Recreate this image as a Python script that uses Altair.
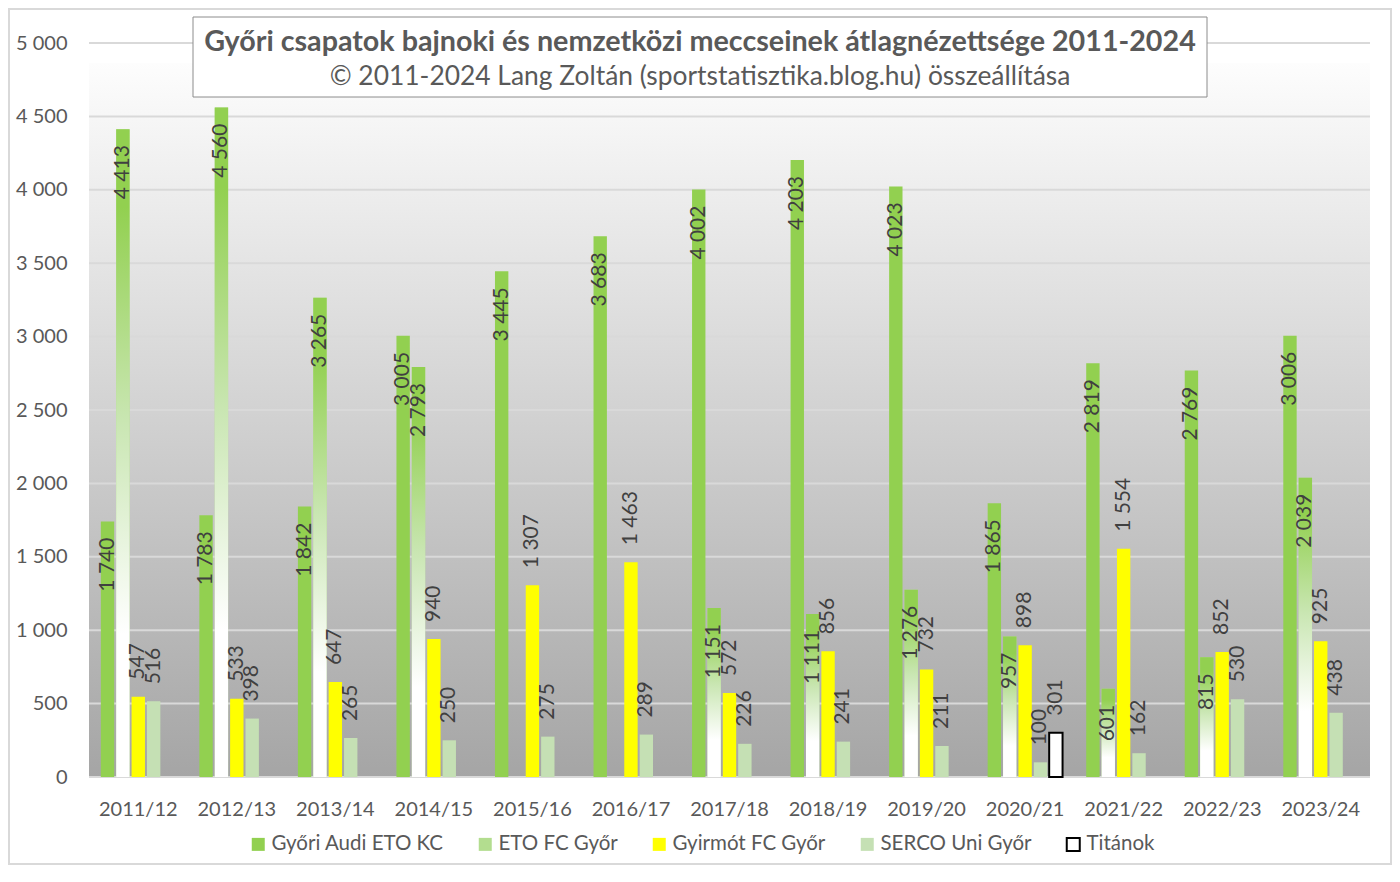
import altair as alt
import pandas as pd

# ---------------- data ----------------
seasons = ["2011/12", "2012/13", "2013/14", "2014/15", "2015/16", "2016/17", "2017/18",
           "2018/19", "2019/20", "2020/21", "2021/22", "2022/23", "2023/24"]
series_names = ["Győri Audi ETO KC", "ETO FC Győr", "Gyirmót FC Győr", "SERCO Uni Győr", "Titánok"]

eto_kc = [1740, 1783, 1842, 3005, 3445, 3683, 4002, 4203, 4023, 1865, 2819, 2769, 3006]
eto_fc = [4413, 4560, 3265, 2793, None, None, 1151, 1111, 1276, 957, 601, 815, 2039]
gyirmot = [547, 533, 647, 940, 1307, 1463, 572, 856, 732, 898, 1554, 852, 925]
serco = [516, 398, 265, 250, 275, 289, 226, 241, 211, 100, 162, 530, 438]
titanok = [None, None, None, None, None, None, None, None, None, 301, None, None, None]

y_ticks = [0, 500, 1000, 1500, 2000, 2500, 3000, 3500, 4000, 4500, 5000]

title_line1 = "Győri csapatok bajnoki és nemzetközi meccseinek átlagnézettsége 2011-2024"
title_line2 = "© 2011-2024 Lang Zoltán (sportstatisztika.blog.hu) összeállítása"

inside_series = ["Győri Audi ETO KC", "ETO FC Győr"]

# ---------------- build table ----------------
rows = []
for name, vals in zip(series_names, [eto_kc, eto_fc, gyirmot, serco, titanok]):
    for s, v in zip(seasons, vals):
        if v is not None:
            rows.append({"season": s, "series": name, "value": v})
df = pd.DataFrame(rows)
grid_df = pd.DataFrame({"v": y_ticks})
one = pd.DataFrame({"a": [0]})

FONT = "Lato"
W, H = 1281, 734

fill_colors = ["#92d050", "#b3dd8f", "#ffff00", "#c5e0b4", "#ffffff"]
stroke_colors = ["transparent", "transparent", "transparent", "transparent", "#000000"]

x_axis = alt.Axis(title=None, labelAngle=0, domain=False, ticks=False, grid=False,
                  labelFont=FONT, labelFontSize=20, labelColor="#595959", labelPadding=22)
y_axis = alt.Axis(title=None, domain=False, ticks=False, tickSize=0, grid=False,
                  values=y_ticks, labelFont=FONT, labelFontSize=20, labelColor="#595959",
                  labelPadding=22,
                  labelExpr="replace(format(datum.value, ','), ',', ' ')")
x_scale = alt.Scale(domain=seasons, paddingInner=0.24, paddingOuter=0.12)
xo_scale = alt.Scale(domain=series_names, paddingInner=0.13, paddingOuter=0)
y_scale = alt.Scale(domain=[0, 5000], nice=False, zero=True)

X = alt.X("season:N", scale=x_scale, axis=x_axis, sort=seasons)
XO = alt.XOffset("series:N", scale=xo_scale, sort=series_names)
Y = alt.Y("value:Q", scale=y_scale, axis=y_axis)

label_expr = "replace(format(datum.value, ','), ',', ' ')"

legend = alt.Legend(title=None, orient="none", legendX=159, legendY=791,
                    direction="horizontal", columns=5, columnPadding=30,
                    symbolType="square", symbolSize=169, labelLimit=400,
                    symbolStrokeWidth=2, labelFont=FONT, labelFontSize=20.5,
                    labelColor="#595959", labelOffset=3)

# background gradient of the plot area
bg = alt.Chart(one).mark_rect(
    color=alt.LinearGradient(
        gradient="linear",
        stops=[alt.GradientStop(color="#fdfdfd", offset=0),
               alt.GradientStop(color="#a5a5a5", offset=1)],
        x1=0, x2=0, y1=0, y2=1)
).encode(x=alt.value(0), x2=alt.value("width"), y=alt.value(20), y2=alt.value("height"))

grid = alt.Chart(grid_df).mark_rule(color="#d9d9d9", strokeWidth=2).encode(
    y=alt.Y("v:Q", scale=y_scale, axis=y_axis)
)

bars = alt.Chart(df).mark_bar(strokeWidth=2).encode(
    x=X, xOffset=XO, y=Y,
    fill=alt.Fill("series:N", scale=alt.Scale(domain=series_names, range=fill_colors),
                  sort=series_names, legend=legend),
    stroke=alt.Stroke("series:N", scale=alt.Scale(domain=series_names, range=stroke_colors),
                      sort=series_names, legend=legend),
)

grad_bars = alt.Chart(df).transform_filter(
    alt.datum.series == "ETO FC Győr"
).mark_bar(
    fill=alt.LinearGradient(
        gradient="linear",
        stops=[alt.GradientStop(color="#92d050", offset=0),
               alt.GradientStop(color="#92d050", offset=0.12),
               alt.GradientStop(color="#c9e6b2", offset=0.45),
               alt.GradientStop(color="#ffffff", offset=0.78),
               alt.GradientStop(color="#ffffff", offset=1)],
        x1=0, x2=0, y1=0, y2=1)
).encode(x=X, xOffset=XO, y=Y)

labels_in = alt.Chart(df).transform_filter(
    alt.FieldOneOfPredicate(field="series", oneOf=inside_series)
).transform_calculate(label=label_expr).mark_text(
    angle=270, align="right", baseline="middle", dx=-16, font=FONT, fontSize=21,
    color="#404040"
).encode(x=X, xOffset=XO, y=Y, text="label:N")

labels_out = alt.Chart(df).transform_filter(
    ~alt.FieldOneOfPredicate(field="series", oneOf=inside_series)
).transform_calculate(label=label_expr).mark_text(
    angle=270, align="left", baseline="middle", dx=17, font=FONT, fontSize=21,
    color="#404040"
).encode(x=X, xOffset=XO, y=Y, text="label:N")

title_box = alt.Chart(one).mark_rect(fill="#ffffff", stroke="#8c8c8c", strokeWidth=1).encode(
    x=alt.value(104), x2=alt.value(1118), y=alt.value(-26), y2=alt.value(54)
)
t1 = alt.Chart(one).mark_text(text=title_line1, font=FONT, fontSize=28.7, fontWeight="bold",
                              color="#595959", align="center", baseline="alphabetic").encode(
    x=alt.value(611), y=alt.value(8))
t2 = alt.Chart(one).mark_text(text=title_line2, font=FONT, fontSize=26.4,
                              color="#595959", align="center", baseline="alphabetic").encode(
    x=alt.value(611), y=alt.value(42))

border = alt.Chart(one).mark_rect(fill=None, stroke="#d9d9d9", strokeWidth=2).encode(
    x=alt.value(-80), x2=alt.value(1302), y=alt.value(-34), y2=alt.value(821)
)

chart = alt.layer(bg, grid, bars, grad_bars, labels_in, labels_out, title_box, t1, t2, border).properties(
    width=W, height=H,
    autosize=alt.AutoSizeParams(type="none"),
    padding={"left": 81, "top": 35, "right": 22, "bottom": 88},
    background="#ffffff",
).configure_view(stroke=None)

chart.save("out.html", embed_options={"renderer": "svg", "actions": False})
